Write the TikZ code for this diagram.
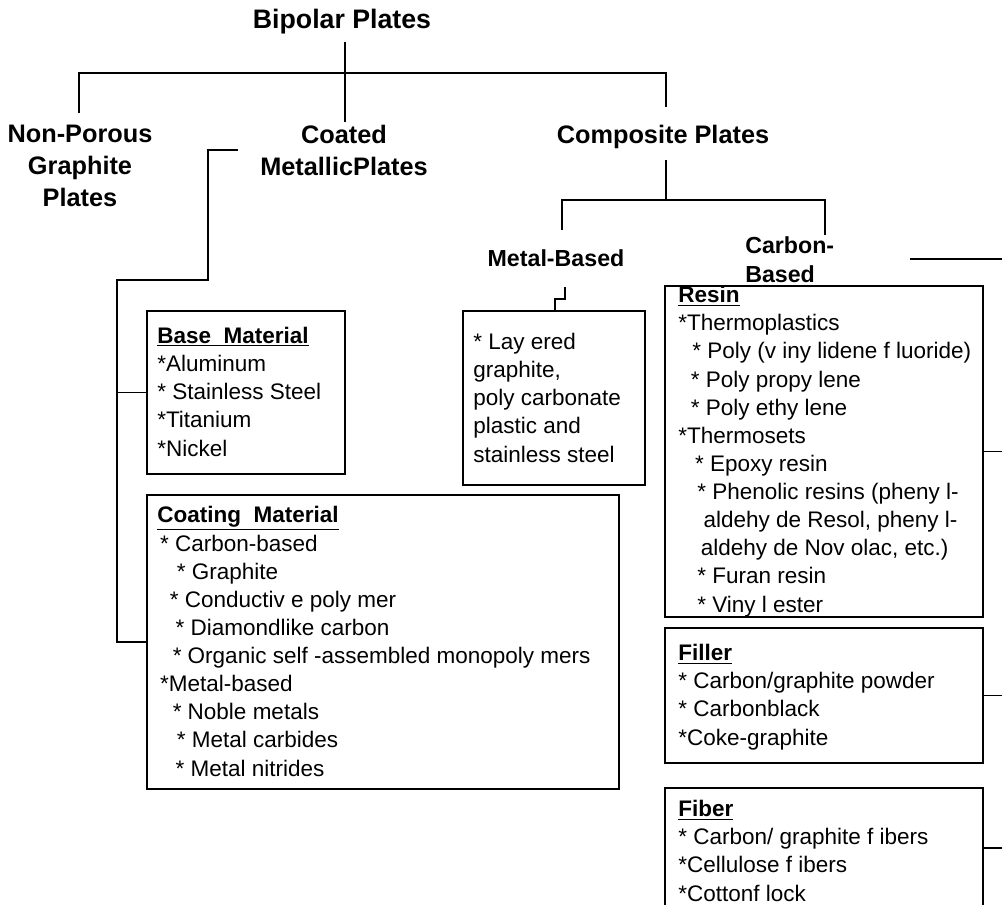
\documentclass[tikz,border=0pt]{standalone}
\usepackage{fontspec}
\setmainfont{Liberation Sans}
\usetikzlibrary{fit}
\begin{document}
\begin{tikzpicture}[x=0.025cm,y=-0.025cm,
  conn/.style={line width=1.3pt},
  boxframe/.style={draw,line width=1.5pt,inner sep=0pt},
  title/.style={inner sep=0pt,anchor=base,font=\bfseries\fontsize{19}{22}\selectfont},
  head/.style={inner sep=0pt,anchor=base,align=center,font=\bfseries\fontsize{18}{22.5}\selectfont},
  subhead/.style={inner sep=0pt,anchor=base,align=left,font=\bfseries\fontsize{16.5}{20.5}\selectfont},
  body/.style={inner sep=0pt,anchor=base west,align=left,font=\fontsize{16}{20}\selectfont}]
\newcommand{\hd}[1]{\underline{\textbf{#1}}}
\newcommand{\ind}[1]{\hspace*{#1pt}}
\fill[white] (0,0) rectangle (1002,904);
\clip (0,0) rectangle (1002,904);

% headings (multi-line nodes are placed by the baseline of their last line)
\node[title] (bp) at (342,28) {Bipolar Plates};
\node[head] (np) at (80,206) {Non-Porous\\Graphite\\Plates};
\node[head] (cm) at (344,175) {Coated\\MetallicPlates};
\node[head] (cp) at (663,143) {Composite Plates};
\node[subhead,anchor=base] (mb) at (556,266) {Metal-Based};
\node[subhead,anchor=base west] (cb) at (745,282) {Carbon-\\Based};

% tree junctions
\coordinate (t0) at (345,42);
\coordinate (t1) at (345,122);
\coordinate (hl) at (79,73);
\coordinate (hr) at (666,73);
\coordinate (npt) at (79,113);
\coordinate (cpt) at (666,107);
\draw[conn] (t0) -- (t1);
\draw[conn] (npt) -- (hl) -- (hr) -- (cpt);

\coordinate (cpb) at (666,160);
\coordinate (cpj) at (666,200);
\coordinate (mbt) at (562,230);
\coordinate (cbt) at (825,235);
\draw[conn] (cpb) -- (cpj);
\draw[conn] (mbt) |- (cpj) -| (cbt);

% boxes
\node[boxframe,fit={(147,311) (345,474)}] (base) {};
\node[boxframe,fit={(147,495) (619,789)}] (coat) {};
\node[boxframe,fit={(463,311) (645,485)}] (metal) {};
\node[boxframe,fit={(665,286) (983,617)}] (resin) {};
\node[boxframe,fit={(665,628) (983,763)}] (filler) {};
\node[boxframe,fit={(665,788) (983,908)}] (fiber) {};

% coated connector
\coordinate (c1) at (238,150);
\coordinate (c2) at (208,280);
\coordinate (c3) at (117,280);
\draw[conn] (c1) -| (c2) -- (c3) |- (coat.west);
\draw[conn] (base.west) -- (base.west -| c3);

% metal-based connector
\coordinate (m1) at (565,287);
\coordinate (m2) at (565,299);
\draw[conn] (m1) -- (m2) -| (metal.north -| 555,0);

% carbon-based connectors to the right
\coordinate (cr1) at (910,259);
\coordinate (cr2) at (1010,259);
\draw[conn] (cr1) -- (cr2);
\draw[conn] (resin.east) -- ++(30,0);
\draw[conn] (filler.east) -- ++(30,0);
\draw[conn] (fiber.east) -- ++(30,0);

% texts
\node[body] (baset) at (157,456) {\hd{Base\ \ Material}\\
*Aluminum\\
* Stainless Steel\\
*Titanium\\
*Nickel};

\node[body] (coatt) at (157,776) {\hd{Coating\ \ Material}\\
\ind{2}* Carbon-based\\
\ind{14}* Graphite\\
\ind{9}* Conductiv e poly mer\\
\ind{13}* Diamondlike carbon\\
\ind{11}* Organic self -assembled monopoly mers\\
\ind{2}*Metal-based\\
\ind{11}* Noble metals\\
\ind{14}* Metal carbides\\
\ind{13}* Metal nitrides};

\node[body] (metalt) at (473,462) {* Lay ered\\
graphite,\\
poly carbonate\\
plastic and\\
stainless steel};

\node[body] (resint) at (678,612) {\hd{Resin}\\
*Thermoplastics\\
\ind{10}* Poly (v iny lidene f luoride)\\
\ind{9}* Poly propy lene\\
\ind{9}* Poly ethy lene\\
*Thermosets\\
\ind{12}* Epoxy resin\\
\ind{13.5}* Phenolic resins (pheny l-\\
\ind{18}aldehy de Resol, pheny l-\\
\ind{16}aldehy de Nov olac, etc.)\\
\ind{13.5}* Furan resin\\
\ind{13.5}* Viny l ester};

\node[body] (fillert) at (678,745) {\hd{Filler}\\
* Carbon/graphite powder\\
* Carbonblack\\
*Coke-graphite};

\node[body] (fibert) at (678,901) {\hd{Fiber}\\
* Carbon/ graphite f ibers\\
*Cellulose f ibers\\
*Cottonf lock};
\end{tikzpicture}
\end{document}
